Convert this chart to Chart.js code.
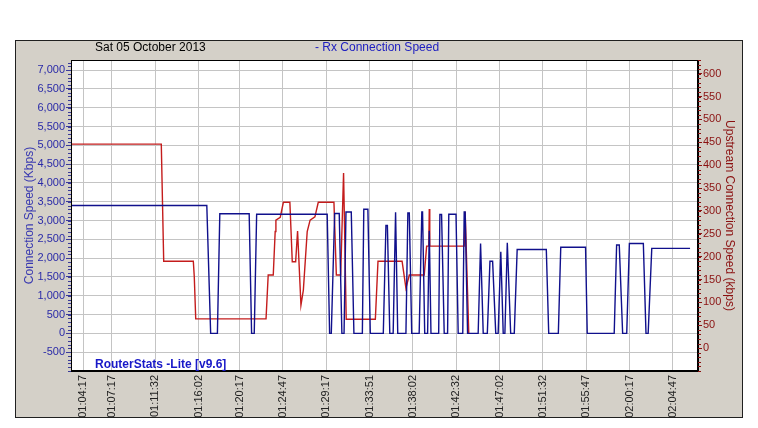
<!DOCTYPE html>
<html>
<head>
<meta charset="utf-8">
<script src="https://cdn.jsdelivr.net/npm/chart.js@4"></script>
<style>
  html, body { margin: 0; padding: 0; background: #fff; }
  canvas { display: block; }
</style>
</head>
<body>
<canvas id="speed" width="758" height="428"></canvas>
<script>
// sample index of each labelled time on the x axis
const timeTicks = [5, 17, 35, 53, 70, 88, 106, 124, 142, 160, 178, 196, 214, 232, 250];
const timeLabels = ['01:04:17', '01:07:17', '01:11:32', '01:16:02', '01:20:17', '01:24:47', '01:29:17',
  '01:33:51', '01:38:02', '01:42:32', '01:47:02', '01:51:32', '01:55:47', '02:00:17', '02:04:47'];

const rxTicks = [-500, 0, 500, 1000, 1500, 2000, 2500, 3000, 3500, 4000, 4500, 5000, 5500, 6000, 6500, 7000];
const upTicks = [0, 50, 100, 150, 200, 250, 300, 350, 400, 450, 500, 550, 600];

// Rx connection speed (Kbps) - sample index / value
const rxSample = [0, 56.4, 58.0, 60.8, 61.8, 74.0, 75.0, 76.1, 77.1, 106.4, 107.4, 108.1, 109.5, 111.4, 112.5,
  113.4, 114.2, 116.4, 117.5, 121.0, 121.6, 123.3, 124.3, 129.7, 130.8, 131.4, 132.4, 133.8, 134.8, 135.7,
  139.1, 139.9, 140.5, 141.5, 144.6, 145.7, 146.0, 146.9, 148.1, 148.8, 149.5, 152.7, 153.2, 153.9, 155.0,
  156.4, 156.9, 159.9, 160.8, 162.7, 163.3, 163.7, 164.7, 169.1, 170.1, 171.2, 172.9, 174.0, 175.1, 176.4,
  177.4, 178.5, 179.5, 180.2, 181.2, 182.6, 184.1, 185.3, 197.4, 198.4, 202.4, 203.4, 213.7, 214.4, 225.6,
  226.6, 227.7, 229.1, 230.8, 231.9, 237.7, 238.8, 239.7, 241.2, 257.1];
const rxKbps = [3400, 3400, 0, 0, 3180, 3180, 0, 0, 3170, 3170, 0, 0, 3190, 3190, 0,
  0, 3230, 3230, 0, 0, 3300, 3300, 0, 0, 2870, 2870, 0, 0, 3220, 0,
  0, 3200, 3200, 0, 0, 3230, 3230, 0, 0, 2730, 0, 0, 3160, 3160, 0,
  0, 3170, 3170, 0, 0, 3230, 3230, 0, 0, 2390, 0, 0, 1920, 1920, 0,
  0, 2170, 0, 0, 2410, 0, 0, 2230, 2230, 0, 0, 2290, 2290, 0, 0,
  2350, 2350, 0, 0, 2390, 2390, 0, 0, 2260, 2260];

// Upstream connection speed (kbps) - sample index / value
const upSample = [0, 37.5, 38.5, 50.8, 51.2, 51.8, 81.0, 81.9, 84.0, 84.8, 85.1, 86.9, 88.2, 90.9, 91.9,
  93.3, 94.1, 95.5, 96.5, 98.1, 99.3, 101.3, 102.7, 109.2, 110.2, 112.0, 113.2, 114.3, 126.4, 127.5,
  137.5, 139.1, 140.5, 146.7, 147.7, 148.6, 148.8, 149.0, 163.3, 163.7, 165.2];
const upKbps = [446, 446, 190, 190, 156, 64, 64, 160, 160, 255, 280, 286, 319, 319, 189,
  189, 256, 94, 127, 255, 280, 287, 319, 319, 160, 160, 383, 63, 63, 190,
  190, 131, 160, 160, 223, 223, 304, 223, 223, 298, 32];

Chart.defaults.font.family = "'Liberation Sans', Arial, sans-serif";

const pairs = (xs, ys) => xs.map((x, i) => ({ x: x, y: ys[i] }));

// petites graduations entre les graduations principales (5 subdivisions)
function drawMinorTicks(ctx, scale, majors, side, color) {
  const step = (majors[1] - majors[0]) / 5;
  ctx.strokeStyle = color;
  ctx.beginPath();
  for (let v = majors[0] - step * 5; v <= scale.max; v += step) {
    if (v < scale.min) continue;
    const y = Math.round(scale.getPixelForValue(v)) + 0.5;
    const x = side === 'left' ? scale.right : scale.left;
    ctx.moveTo(x, y);
    ctx.lineTo(side === 'left' ? x - 3 : x + 3, y);
  }
  ctx.stroke();
}

// panneau gris, cadre et textes fixes
const framePlugin = {
  id: 'frame',
  beforeDraw(chart) {
    const { ctx, chartArea: a } = chart;
    ctx.save();
    ctx.fillStyle = '#ffffff';
    ctx.fillRect(0, 0, chart.width, chart.height);
    ctx.fillStyle = '#d4d0c8';
    ctx.fillRect(15, 40, 728, 378);
    ctx.strokeStyle = '#202020';
    ctx.lineWidth = 1;
    ctx.strokeRect(15.5, 40.5, 727, 377);
    ctx.fillStyle = '#ffffff';
    ctx.fillRect(a.left, a.top, a.right - a.left, a.bottom - a.top);
    ctx.restore();
  },
  afterDraw(chart) {
    const { ctx, chartArea: a } = chart;
    ctx.save();
    ctx.lineWidth = 1;
    drawMinorTicks(ctx, chart.scales.y, rxTicks, 'left', '#3a3a9a');
    drawMinorTicks(ctx, chart.scales.y1, upTicks, 'right', '#8a1010');
    ctx.strokeStyle = '#000000';
    ctx.strokeRect(a.left + 0.5, a.top + 0.5, a.right - a.left - 1, a.bottom - a.top - 1);
    ctx.textBaseline = 'middle';
    ctx.textAlign = 'left';
    ctx.font = "12px 'Liberation Sans', Arial, sans-serif";
    ctx.fillStyle = '#000000';
    ctx.fillText('Sat 05 October 2013', 95, 48);
    ctx.fillStyle = '#2020c0';
    ctx.fillText('- Rx Connection Speed', 315, 48);
    ctx.font = "bold 12px 'Liberation Sans', Arial, sans-serif";
    ctx.fillStyle = '#1818c8';
    ctx.fillText('RouterStats -Lite [v9.6]', 95, 365);
    ctx.restore();
  }
};

new Chart(document.getElementById('speed'), {
  type: 'line',
  data: {
    datasets: [
      {
        label: 'Rx Connection Speed',
        data: pairs(rxSample, rxKbps),
        borderColor: '#10108c',
        borderWidth: 1.4,
        pointRadius: 0,
        tension: 0,
        yAxisID: 'y',
      },
      {
        label: 'Upstream Connection Speed',
        data: pairs(upSample, upKbps),
        borderColor: '#c41c1c',
        borderWidth: 1.4,
        pointRadius: 0,
        tension: 0,
        yAxisID: 'y1',
      },
    ],
  },
  options: {
    responsive: false,
    animation: false,
    layout: { padding: { left: 15, right: 15, top: 60, bottom: 10 } },
    plugins: {
      legend: { display: false },
      tooltip: { enabled: false },
    },
    scales: {
      x: {
        type: 'linear',
        min: 0,
        max: 260.4,
        afterBuildTicks: (s) => { s.ticks = timeTicks.map((v) => ({ value: v })); },
        afterFit: (s) => { s.height = 47; },
        ticks: {
          autoSkip: false,
          minRotation: 90,
          maxRotation: 90,
          padding: 4,
          color: '#222222',
          font: { size: 11 },
          callback: (v, i) => timeLabels[i],
        },
        grid: { color: '#c4c4c4', drawTicks: false },
        border: { color: '#000000', width: 1 },
      },
      y: {
        position: 'left',
        min: -1000,
        max: 7270,
        afterBuildTicks: (s) => { s.ticks = rxTicks.map((v) => ({ value: v })); },
        afterFit: (s) => { s.width = 56; },
        ticks: {
          padding: 1,
          color: '#2a2aa8',
          font: { size: 11 },
          callback: (v) => v.toLocaleString('en-US'),
        },
        grid: { color: '#c4c4c4', tickColor: '#3a3a9a', tickLength: 5 },
        border: { color: '#000000', width: 1 },
        title: {
          display: true,
          text: 'Connection Speed (Kbps)',
          color: '#3838b0',
          font: { size: 12 },
          padding: { top: 7, bottom: 0 },
        },
      },
      y1: {
        position: 'right',
        min: -50,
        max: 630,
        afterBuildTicks: (s) => { s.ticks = upTicks.map((v) => ({ value: v })); },
        afterFit: (s) => { s.width = 45; },
        ticks: {
          padding: 1,
          color: '#8a1010',
          font: { size: 11 },
        },
        grid: { drawOnChartArea: false, tickColor: '#8a1010', tickLength: 4 },
        border: { color: '#000000', width: 1 },
        title: {
          display: true,
          text: 'Upstream Connection Speed (kbps)',
          color: '#8a1010',
          font: { size: 12 },
          padding: { top: 6, bottom: 0 },
        },
      },
    },
  },
  plugins: [framePlugin],
});
</script>
</body>
</html>
